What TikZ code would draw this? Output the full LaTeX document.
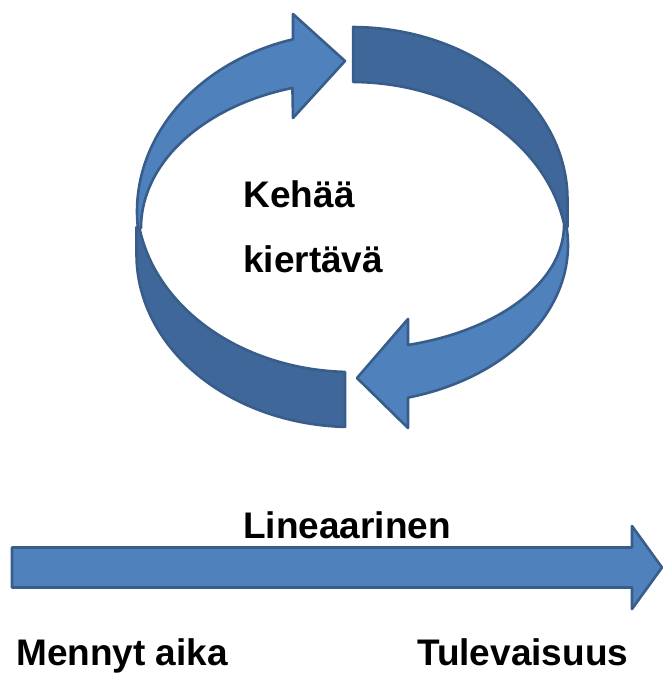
\documentclass[tikz,border=0pt]{standalone}
\usepackage{fontspec}
\setmainfont{Liberation Sans}
\definecolor{lightblue}{HTML}{4F81BD}
\definecolor{darkband}{HTML}{40679A}
\definecolor{edgeblue}{HTML}{385D8A}
\begin{document}
\begin{tikzpicture}[x=1pt,y=-1pt,
  ringpart/.style={draw=edgeblue, line width=2.6pt, line join=round},
  lightpart/.style={ringpart, fill=lightblue},
  darkpart/.style={ringpart, fill=darkband},
  txt/.style={font=\fontsize{37}{41}\selectfont\bfseries, inner sep=0pt, anchor=base west, text=black}]
\useasboundingbox (0,0) rectangle (663,673);
% dark back band, top right
\draw[darkpart] plot[variable=\t,domain=270.3:360,samples=60] ({352+215.5*cos(\t)},{199.5+172.5*sin(\t)})
  -- (567.5,227)
  -- plot[variable=\t,domain=350.83:270.3,samples=60] ({352+215.5*cos(\t)},{254.5+172.5*sin(\t)}) -- cycle;
% dark front band, bottom left
\draw[darkpart] plot[variable=\t,domain=91.86:170.83,samples=60] ({352+215.5*cos(\t)},{199.5+172.5*sin(\t)})
  -- (136.5,227)
  -- plot[variable=\t,domain=180:91.86,samples=60] ({352+215.5*cos(\t)},{254.5+172.5*sin(\t)}) -- cycle;
% light arrow, top left
\draw[lightpart] plot[variable=\t,domain=180:253.6,samples=60] ({352+211*cos(\t)},{228+146*sin(\t)})
  -- (293,118) -- (345,61) -- (293,14)
  -- plot[variable=\t,domain=254.07:174.68,samples=60] ({352+215*cos(\t)},{211.4+179*sin(\t)}) -- cycle;
% light arrow, bottom right
\draw[lightpart] plot[variable=\t,domain=0:74.68,samples=60] ({352+212*cos(\t)},{225+124.4*sin(\t)})
  -- (408,319) -- (357,378) -- (408,428)
  -- plot[variable=\t,domain=74.97:-7.27,samples=60] ({352+216*cos(\t)},{245+158*sin(\t)}) -- cycle;
% linear arrow
\draw[lightpart] (12,547.5) -- (632,547.5) -- (632,526) -- (662,567.5) -- (632,609) -- (632,587.5) -- (12,587.5) -- cycle;
% texts
\node[txt] (kehaa) at (243.5,207) {Kehää};
\node[txt] (kiertava) at (243,272) {kiertävä};
\node[txt] (lineaarinen) at (243,538) {Lineaarinen};
\node[txt] (mennyt) at (16,665) {Mennyt aika};
\node[txt] (tulevaisuus) at (417,665) {Tulevaisuus};
\end{tikzpicture}
\end{document}
